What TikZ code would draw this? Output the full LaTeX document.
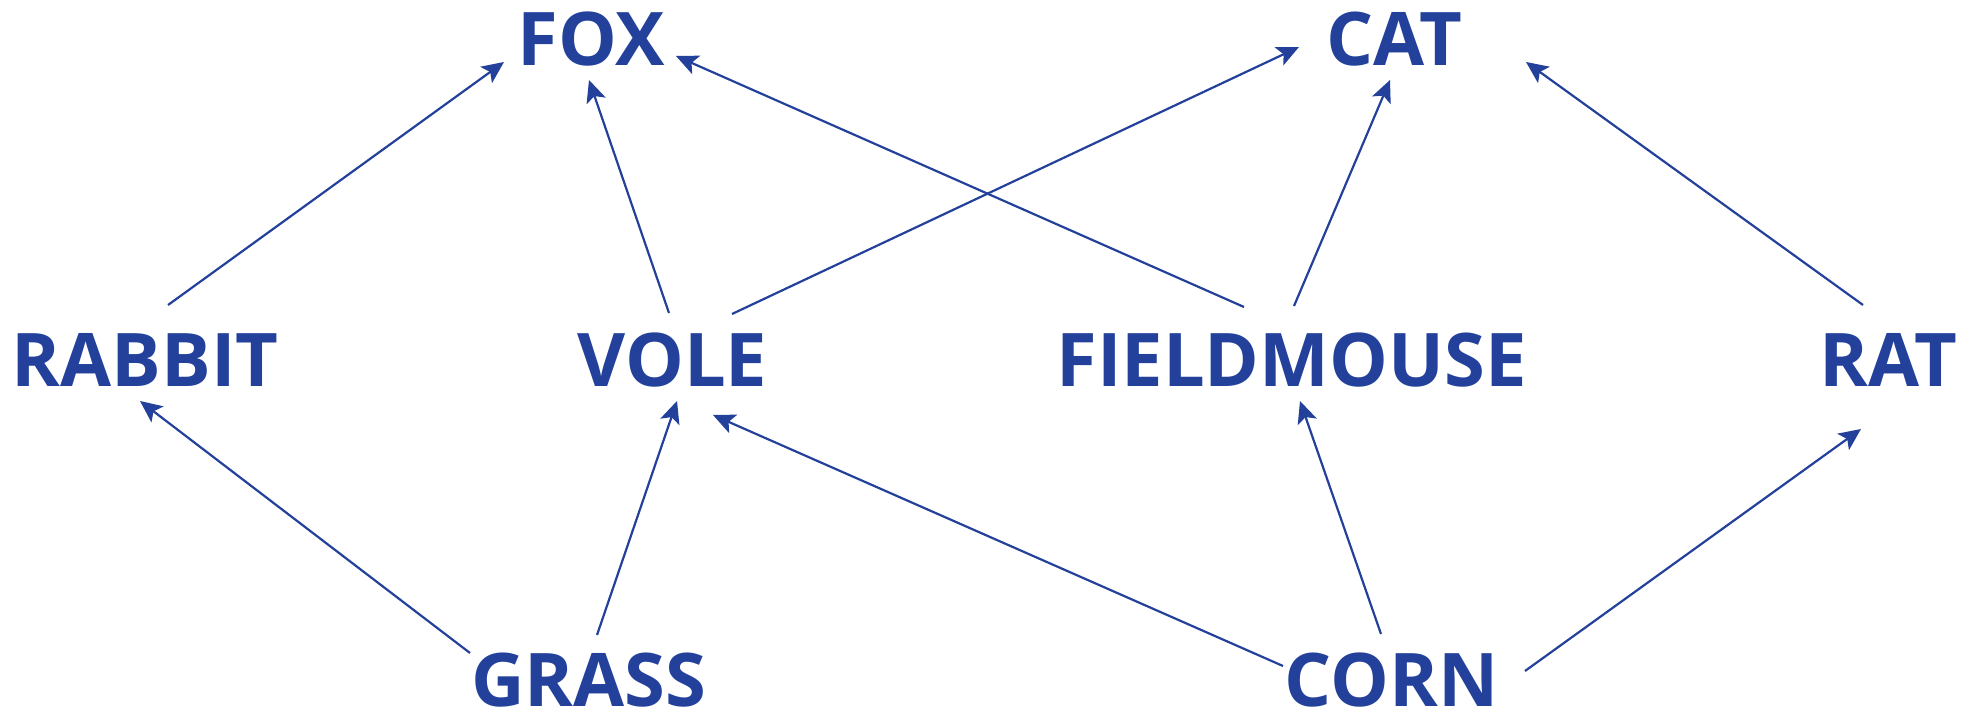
\documentclass[tikz,border=0pt]{standalone}
\usepackage{fontspec}
\setmainfont{Open Sans}
\usetikzlibrary{arrows.meta}
\definecolor{webblue}{RGB}{35,65,155}
\tikzset{
  animal/.style={inner sep=0pt, anchor=base, text=webblue,
    font=\fontsize{37}{40}\selectfont\bfseries},
  eats/.style={draw=webblue, line width=1.1pt,
    -{Stealth[length=11pt, width=10pt, inset=2.5pt]}},
}
\begin{document}
\begin{tikzpicture}[x=0.5pt, y=-0.5pt]
\useasboundingbox (0,0) rectangle (1982,716);

% top row: predators
\node[animal] (fox) at (591.5,66) {FOX};
\node[animal] (cat) at (1394,66) {CAT};
% middle row: small mammals
\node[animal] (rabbit) at (145,387) {RABBIT};
\node[animal] (vole) at (672.5,387) {VOLE};
\node[animal] (fieldmouse) at (1291.5,387) {FIELDMOUSE};
\node[animal] (rat) at (1888.5,387) {RAT};
% bottom row: plants
\node[animal] (grass) at (588.5,706) {GRASS};
\node[animal] (corn) at (1391.5,706) {CORN};

% who is eaten by whom
\draw[eats] ([shift={(23,-82)}]rabbit.base) -- ([shift={(-87.5,-4)}]fox.base);
\draw[eats] ([shift={(-3.5,-74)}]vole.base) -- ([shift={(-2.5,14)}]fox.base);
\draw[eats] ([shift={(-47.5,-80)}]fieldmouse.base) -- ([shift={(84.5,-10)}]fox.base);
\draw[eats] ([shift={(59.5,-73)}]vole.base) -- ([shift={(-95,-19)}]cat.base);
\draw[eats] ([shift={(2.5,-81)}]fieldmouse.base) -- ([shift={(-4,14)}]cat.base);
\draw[eats] ([shift={(-25.5,-82)}]rat.base) -- ([shift={(132,-4)}]cat.base);
\draw[eats] ([shift={(-118.5,-53)}]grass.base) -- ([shift={(-5,14)}]rabbit.base);
\draw[eats] ([shift={(8.5,-71)}]grass.base) -- ([shift={(4.5,14)}]vole.base);
\draw[eats] ([shift={(-108.5,-40)}]corn.base) -- ([shift={(40.5,28)}]vole.base);
\draw[eats] ([shift={(-10.5,-72)}]corn.base) -- ([shift={(8.5,14)}]fieldmouse.base);
\draw[eats] ([shift={(133.5,-35)}]corn.base) -- ([shift={(-27.5,42)}]rat.base);
\end{tikzpicture}
\end{document}
